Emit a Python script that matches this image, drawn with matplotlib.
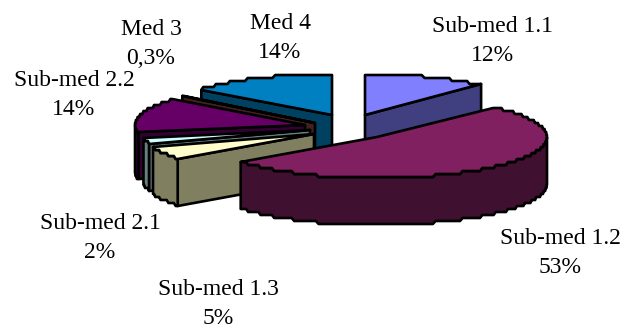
import numpy as np
import matplotlib
matplotlib.use('Agg')
import matplotlib.pyplot as plt
from matplotlib.patches import Polygon

plt.rcParams['font.family'] = ['Liberation Serif', 'DejaVu Serif']

# data
labels = ['Sub-med 1.1', 'Sub-med 1.2', 'Sub-med 1.3', 'Sub-med 2.1',
          'Sub-med 2.2', 'Med 3', 'Med 4']
values = [12, 53, 5, 2, 14, 0.3, 14]
pct_text = ['12%', '53%', '5%', '2%', '14%', '0,3%', '14%']

# styles
top_colors = ['#8080ff', '#802060', '#ffffcc', '#ccffff', '#660066', '#804040', '#0080c0']
side_colors = ['#404080', '#401030', '#808060', '#668080', '#330033', '#402020', '#004060']
# where each exploded slice has its tip, pixels
tip_x = [365, 377, 314, 310, 305, 315, 332]
tip_y = [115, 137, 134, 130, 125, 123, 115]
label_x = [492, 560, 218, 100, 74, 151, 280]
label_y = [41, 253, 304, 238, 95, 44, 38]
draw_order = [0, 6, 5, 4, 3, 2, 1]
rx, ry, depth = 170, 41, 47
step = 3  # the rim of the original is stepped

fig = plt.figure(figsize=(6.25, 3.29), dpi=100)
ax = fig.add_axes([0, 0, 1, 1])
ax.set_xlim(0, 625)
ax.set_ylim(329, 0)
ax.axis('off')

edges = np.cumsum([0] + values) / sum(values) * 2 * np.pi


def rim(i, t):
    return tip_x[i] + rx * np.sin(t), np.round((tip_y[i] - ry * np.cos(t)) / step) * step


def face(xs, ys, color, z):
    ax.add_patch(Polygon(np.column_stack([xs, ys]), closed=True, facecolor=color,
                         edgecolor='black', lw=1.9, joinstyle='round', zorder=z))


z = 1
for i in draw_order:
    a0, a1 = edges[i], edges[i + 1]
    t = np.linspace(a0, a1, max(int(np.degrees(a1 - a0)), 2))
    x, y = rim(i, t)
    # cut faces, only those turned to the viewer
    for a, seen in ((a0, np.sin(a0) < 0), (a1, np.sin(a1) > 0)):
        if seen:
            ex, ey = rim(i, a)
            face([tip_x[i], ex, ex, tip_x[i]], [tip_y[i], ey, ey + depth, tip_y[i] + depth],
                 side_colors[i], z)
    # outer wall, only the part turned to the viewer
    front = np.cos(t) < 0
    if front.sum() > 1:
        fx, fy = x[front], y[front]
        face(np.r_[fx, fx[::-1]], np.r_[fy, fy[::-1] + depth], side_colors[i], z + 0.1)
    # top
    face(np.r_[tip_x[i], x], np.r_[tip_y[i], y], top_colors[i], z + 0.2)
    z += 1

for i in range(len(labels)):
    ax.text(label_x[i], label_y[i], labels[i] + '\n' + pct_text[i], ha='center', va='center',
            fontsize=17, color='black', linespacing=1.55, zorder=20)

fig.savefig('out.png', dpi=100)
